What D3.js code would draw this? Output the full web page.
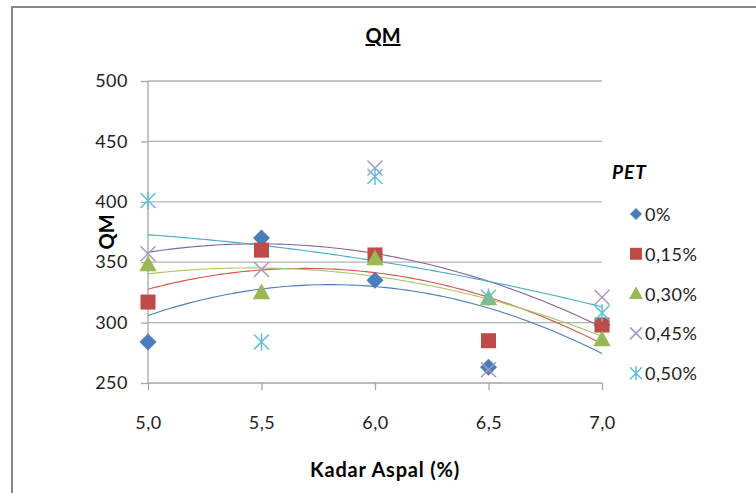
<!DOCTYPE html>
<html><head><meta charset="utf-8">
<script src="https://cdn.jsdelivr.net/npm/d3@7"></script>
<style>body{margin:0;background:#fff}svg{display:block}text{font-family:Lato,"Open Sans",sans-serif}</style>
</head><body><svg id="c" width="756" height="493"></svg>
<script>
const xValues = [5.0, 5.5, 6.0, 6.5, 7.0];
const seriesNames = ["0%", "0,15%", "0,30%", "0,45%", "0,50%"];
const s0 = [284, 370, 335, 263, 298];
const s15 = [317, 360, 356, 285, 298];
const s30 = [348, 325, 353, 320, 286];
const s45 = [357, 344, 428, 261, 321];
const s50 = [401, 284, 421, 321, 308];
const yTicks = [250, 300, 350, 400, 450, 500];
const xTicks = [5.0, 5.5, 6.0, 6.5, 7.0];

const allSeries = [s0, s15, s30, s45, s50];
const markerFill = ["#4a7ebb", "#be4b48", "#98b954", "none", "none"];
const markerStroke = ["#4a7ebb", "#be4b48", "#98b954", "#a996c6", "#5bc0de"];
const lineColor = ["#4a7ebb", "#d9534f", "#a6c96a", "#8064a2", "#46aac5"];
const shapes = ["diamond", "square", "triangle", "x", "star"];

const svg = d3.select("#c");
const x = d3.scaleLinear().domain([5, 7]).range([148, 602]);
const y = d3.scaleLinear().domain([250, 500]).range([383, 81]);

// border
svg.append("path").attr("d", "M12,493V7H756").attr("fill", "none").attr("stroke", "#878787").attr("stroke-width", 2);

// grid
svg.append("g").selectAll("line").data(yTicks.filter(d => d > 250)).join("line")
  .attr("x1", x(5)).attr("x2", x(7)).attr("y1", d => y(d)).attr("y2", d => y(d))
  .attr("stroke", "#b3b3b3").attr("stroke-width", 1.3);

const fmt = d => d3.format(".1f")(d).replace(".", ",");
const ax = svg.append("g").attr("transform", `translate(0,${y(250)})`)
  .call(d3.axisBottom(x).tickValues(xTicks).tickFormat(fmt).tickSize(7).tickPadding(26));
const ay = svg.append("g").attr("transform", `translate(${x(5)},0)`)
  .call(d3.axisLeft(y).tickValues(yTicks).tickSize(7).tickPadding(13));
[ax, ay].forEach(g => {
  g.select(".domain").attr("stroke", "#a6a6a6").attr("stroke-width", 1.3);
  g.selectAll(".tick line").attr("stroke", "#a6a6a6").attr("stroke-width", 1.3);
  g.selectAll("text").attr("font-size", 18).attr("fill", "#222").attr("letter-spacing", 0.5).attr("font-family", "Lato, sans-serif");
});
ay.select(".domain").attr("d", `M0,${y(500)}V${y(250)}`);
ax.select(".domain").attr("d", `M${x(5)},0H${x(7)}`);

// quadratic least squares fit
function polyfit2(xs, ys) {
  const n = xs.length; let S = [0,0,0,0,0], T = [0,0,0];
  for (let i = 0; i < n; i++) { let p = 1; for (let k = 0; k < 5; k++) { S[k] += p; if (k < 3) T[k] += p * ys[i]; p *= xs[i]; } }
  const A = [[S[0],S[1],S[2],T[0]],[S[1],S[2],S[3],T[1]],[S[2],S[3],S[4],T[2]]];
  for (let i = 0; i < 3; i++) { for (let j = i + 1; j < 3; j++) { const f = A[j][i] / A[i][i]; for (let k = i; k < 4; k++) A[j][k] -= f * A[i][k]; } }
  const c = [0,0,0];
  for (let i = 2; i >= 0; i--) { let s = A[i][3]; for (let k = i + 1; k < 3; k++) s -= A[i][k] * c[k]; c[i] = s / A[i][i]; }
  return t => c[0] + c[1] * t + c[2] * t * t;
}
const line = d3.line().x(d => x(d[0])).y(d => y(d[1]));
allSeries.forEach((s, i) => {
  const f = polyfit2(xValues, s);
  const pts = d3.range(0, 101).map(k => { const t = 5 + k * 0.02; return [t, f(t)]; });
  svg.append("path").attr("d", line(pts)).attr("fill", "none").attr("stroke", lineColor[i]).attr("stroke-width", 1.1);
});

function marker(g, shape, i, size) {
  const c = markerStroke[i];
  if (shape === "diamond") { const h = size / 2; g.append("path").attr("d", `M0,${-h}L${h},0L0,${h}L${-h},0Z`).attr("fill", markerFill[i]); }
  else if (shape === "square") g.append("rect").attr("x", -size / 2).attr("y", -size / 2).attr("width", size).attr("height", size).attr("fill", markerFill[i]);
  else if (shape === "triangle") g.append("path").attr("d", `M0,${-size*0.6}L${size*0.58},${size*0.45}L${-size*0.58},${size*0.45}Z`).attr("fill", markerFill[i]);
  else if (shape === "x") { const h = size / 2; g.append("path").attr("d", `M${-h},${-h}L${h},${h}M${-h},${h}L${h},${-h}`).attr("stroke", c).attr("stroke-width", 1.5); }
  else { const h = size / 2; g.append("path").attr("d", `M${-h},${-h}L${h},${h}M${-h},${h}L${h},${-h}M0,${-h*1.15}V${h*1.15}`).attr("stroke", c).attr("stroke-width", 1.5); }
}

allSeries.forEach((s, i) => {
  s.forEach((v, j) => {
    const g = svg.append("g").attr("transform", `translate(${x(xValues[j])},${y(v)})`);
    marker(g, shapes[i], i, i === 0 ? 17 : 15);
  });
});

// titles
svg.append("text").attr("x", 383).attr("y", 43).attr("text-anchor", "middle").attr("font-size", 20).attr("font-weight", "bold").attr("text-decoration", "underline").text("QM");
svg.append("text").attr("transform", `translate(114,232) rotate(-90)`).attr("text-anchor", "middle").attr("font-size", 20).attr("font-weight", "bold").text("QM");
svg.append("text").attr("x", 385).attr("y", 477).attr("text-anchor", "middle").attr("font-size", 20).attr("font-weight", "bold").attr("letter-spacing", 0.8).text("Kadar Aspal (%)");

// legend
svg.append("text").attr("x", 612).attr("y", 179).attr("font-size", 19).attr("font-weight", "bold").attr("font-style", "italic").attr("letter-spacing", 1).text("PET");
seriesNames.forEach((n, i) => {
  const yy = 214 + i * 39.8;
  const g = svg.append("g").attr("transform", `translate(636,${yy})`);
  marker(g, shapes[i], i, 12);
  svg.append("text").attr("x", 645).attr("y", yy + 7).attr("font-size", 18).attr("letter-spacing", 0.5).attr("fill", "#222").text(n);
});
</script></body></html>
